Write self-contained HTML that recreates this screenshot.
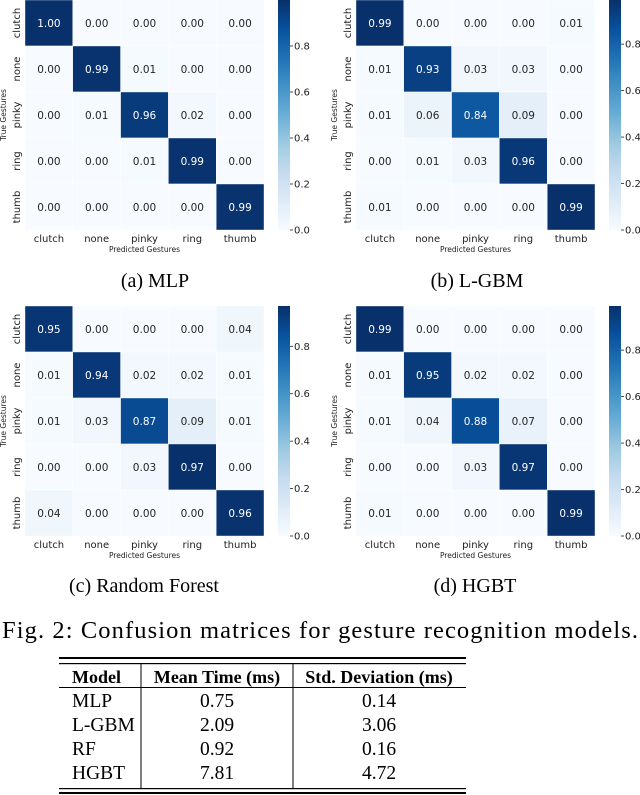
<!DOCTYPE html>
<html><head><meta charset="utf-8"><style>
html,body{margin:0;padding:0;background:#fff;width:640px;height:795px;overflow:hidden}
svg{display:block}
.v{font-family:"DejaVu Sans",sans-serif;font-size:10.5px}
.t{font-family:"DejaVu Sans",sans-serif;font-size:10px;fill:#222}
.s{font-family:"DejaVu Sans",sans-serif;font-size:7.5px;fill:#222}
.cap{font-family:"Liberation Serif",serif;font-size:20px;fill:#000}
.tb{font-family:"Liberation Serif",serif;font-size:19.5px;fill:#000}
.th{font-family:"Liberation Serif",serif;font-size:18px;fill:#000;font-weight:bold}
</style></head><body>
<svg id="fig" width="640" height="795" viewBox="0 0 640 795" xmlns="http://www.w3.org/2000/svg">
<defs>
<linearGradient id="blues" x1="0" y1="1" x2="0" y2="0">
<stop offset="0" stop-color="#f7fbff"/><stop offset="0.125" stop-color="#deebf7"/><stop offset="0.25" stop-color="#c6dbef"/><stop offset="0.375" stop-color="#9ecae1"/><stop offset="0.5" stop-color="#6baed6"/><stop offset="0.625" stop-color="#4292c6"/><stop offset="0.75" stop-color="#2171b5"/><stop offset="0.875" stop-color="#08519c"/><stop offset="1" stop-color="#08306b"/>
</linearGradient>
</defs>
<g id="panels"></g>
<text class="cap" x="155" y="287" text-anchor="middle">(a) MLP</text>
<text class="cap" x="477" y="287" text-anchor="middle">(b) L-GBM</text>
<text class="cap" x="144" y="592" text-anchor="middle">(c) Random Forest</text>
<text class="cap" x="475" y="592" text-anchor="middle">(d) HGBT</text>
<text class="cap" x="2" y="638" style="font-size:24.5px" textLength="636" lengthAdjust="spacing">Fig. 2: Confusion matrices for gesture recognition models.</text>
<g>
<rect x="59" y="657" width="407" height="2" fill="#000"/>
<rect x="59" y="663" width="407" height="1.2" fill="#000"/>
<rect x="59" y="687" width="407" height="1" fill="#000"/>
<rect x="59" y="788" width="407" height="1.2" fill="#000"/>
<rect x="59" y="792" width="407" height="2" fill="#000"/>
<rect x="140.5" y="664" width="1" height="124" fill="#000"/>
<rect x="292.5" y="664" width="1" height="124" fill="#000"/>
<text class="th" x="72" y="683">Model</text>
<text class="th" x="217" y="683" text-anchor="middle">Mean Time (ms)</text>
<text class="th" x="379" y="683" text-anchor="middle">Std. Deviation (ms)</text>
<g id="rows"></g>
</g>
</svg>
<script>
const labels = ["clutch","none","pinky","ring","thumb"];
const mlp = [[1.00,0.00,0.00,0.00,0.00],[0.00,0.99,0.01,0.00,0.00],[0.00,0.01,0.96,0.02,0.00],[0.00,0.00,0.01,0.99,0.00],[0.00,0.00,0.00,0.00,0.99]];
const lgbm = [[0.99,0.00,0.00,0.00,0.01],[0.01,0.93,0.03,0.03,0.00],[0.01,0.06,0.84,0.09,0.00],[0.00,0.01,0.03,0.96,0.00],[0.01,0.00,0.00,0.00,0.99]];
const rf = [[0.95,0.00,0.00,0.00,0.04],[0.01,0.94,0.02,0.02,0.01],[0.01,0.03,0.87,0.09,0.01],[0.00,0.00,0.03,0.97,0.00],[0.04,0.00,0.00,0.00,0.96]];
const hgbt = [[0.99,0.00,0.00,0.00,0.00],[0.01,0.95,0.02,0.02,0.00],[0.01,0.04,0.88,0.07,0.00],[0.00,0.00,0.03,0.97,0.00],[0.01,0.00,0.00,0.00,0.99]];
const cbTicks = [0.0,0.2,0.4,0.6,0.8];
const tModels = ["MLP","L-GBM","RF","HGBT"];
const tMean = ["0.75","2.09","0.92","7.81"];
const tStd = ["0.14","3.06","0.16","4.72"];

const NS="http://www.w3.org/2000/svg";
const stops=[[0,[247,251,255]],[0.125,[222,235,247]],[0.25,[198,219,239]],[0.375,[158,202,225]],[0.5,[107,174,214]],[0.625,[66,146,198]],[0.75,[33,113,181]],[0.875,[8,81,156]],[1,[8,48,107]]];
function blues(t){t=Math.max(0,Math.min(1,t));for(let i=1;i<stops.length;i++){if(t<=stops[i][0]){const a=stops[i-1],b=stops[i];const f=(t-a[0])/(b[0]-a[0]);const c=a[1].map((v,k)=>Math.round(v+(b[1][k]-v)*f));return `rgb(${c})`;}}return "rgb(8,48,107)";}
function el(tag,attrs,parent,text){const e=document.createElementNS(NS,tag);for(const k in attrs)e.setAttribute(k,attrs[k]);if(text!==undefined)e.textContent=text;parent.appendChild(e);return e;}
const root=document.getElementById("panels");
function panel(name,data,x0,y0){
  const W=239,H=230,cw=W/5,ch=H/5;
  const vmax=Math.max(...data.flat()),vmin=Math.min(...data.flat());
  const g=el("g",{},root);
  
  
  data.forEach((row,r)=>row.forEach((v,c)=>{
    const t=(v-vmin)/(vmax-vmin);
    const rc=el("rect",{x:x0+c*cw,y:y0+r*ch,width:cw,height:ch,fill:blues(t),stroke:"#fff","stroke-width":0.4},g);
    
    
    const tx=el("text",{x:x0+c*cw+cw/2,y:y0+r*ch+ch/2+4,"text-anchor":"middle",class:"v",fill:t>0.5?"#fff":"#262626"},g,v.toFixed(2));
    
    
  }));
  labels.forEach((l,i)=>{
    const xt=el("text",{x:x0+i*cw+cw/2,y:y0+H+12,"text-anchor":"middle",class:"t"},g,l);
    
    
    const cy=y0+i*ch+ch/2, cx=x0-5;
    const yt=el("text",{x:cx,y:cy,"text-anchor":"middle",class:"t",transform:`rotate(-90 ${cx} ${cy})`},g,l);
    
    
  });
  const xl=el("text",{x:x0+W/2,y:y0+H+22,"text-anchor":"middle",class:"s"},g,"Predicted Gestures");
  
  
  const lx=x0-19,ly=y0+H/2;
  const yl=el("text",{x:lx,y:ly,"text-anchor":"middle",class:"s",transform:`rotate(-90 ${lx} ${ly})`},g,"True Gestures");
  
  
  const cbx=x0+W+14,cbw=12;
  const cb=el("rect",{x:cbx,y:y0,width:cbw,height:H,fill:"url(#blues)"},g);
  
  
  cbTicks.forEach(tv=>{
    const yy=y0+H-(tv-vmin)/(vmax-vmin)*H;
    const tk=el("line",{x1:cbx+cbw,x2:cbx+cbw+3,y1:yy,y2:yy,stroke:"#222","stroke-width":0.8},g);
    
    
    const tl=el("text",{x:cbx+cbw+4,y:yy+3.5,class:"t"},g,tv.toFixed(1));
    
    
  });
}
panel("mlp",mlp,25,0);
panel("lgbm",lgbm,356,0);
panel("rf",rf,25,306);
panel("hgbt",hgbt,356,306);
const rows=document.getElementById("rows");
tModels.forEach((m,i)=>{
  const y=707+i*24;
  const a=el("text",{x:72,y:y,class:"tb"},rows,m);
  
  
  const b=el("text",{x:217,y:y,"text-anchor":"middle",class:"tb"},rows,tMean[i]);
  
  
  const c=el("text",{x:379,y:y,"text-anchor":"middle",class:"tb"},rows,tStd[i]);
  
  
});
</script>
</body></html>
